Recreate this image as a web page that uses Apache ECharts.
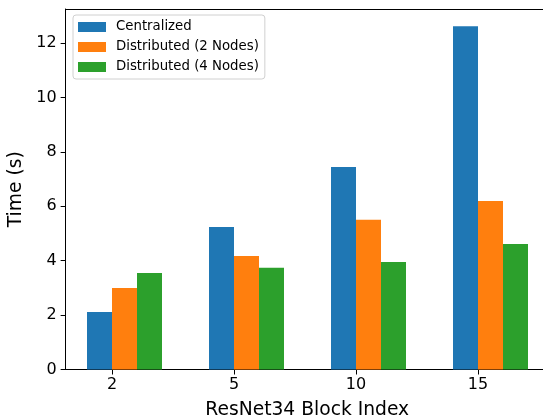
<!DOCTYPE html>
<html>
<head>
<meta charset="utf-8">
<script src="https://cdn.jsdelivr.net/npm/echarts@6/dist/echarts.min.js"></script>
<style>
  html, body { margin: 0; padding: 0; background: #fff; }
  #chart { width: 543px; height: 417px; }
</style>
</head>
<body>
<div id="chart"></div>
<script>
// Block indices on the x axis and run times (seconds) for each setup
const blockLabels = ['2', '5', '10', '15'];
const centralized = [2.11, 5.24, 7.44, 12.62];
const distributed2 = [3.00, 4.17, 5.50, 6.19];
const distributed4 = [3.55, 3.74, 3.95, 4.61];
const yTicks = [0, 2, 4, 6, 8, 10, 12];

const FONT = 'DejaVu Sans';
const BAR_W = 25;
const positions = blockLabels.map((_, i) => i);
const toPoints = arr => arr.map((v, i) => [i, v]);

const chart = echarts.init(document.getElementById('chart'), null, { renderer: 'canvas' });

const barSeries = (name, values, color) => ({
  name, type: 'bar', barWidth: BAR_W, barGap: '0%',
  data: toPoints(values), itemStyle: { color }
});

const frameLine = { show: true, onZero: false, lineStyle: { color: '#000', width: 1 } };

chart.setOption({
  animation: false,
  backgroundColor: '#fff',
  grid: {
    left: 65.64, right: -5.76, top: 9, bottom: 47.5,
    outerBoundsMode: 'none', containLabel: false, show: false
  },
  legend: {
    orient: 'vertical',
    left: 73, top: 15,
    data: ['Centralized', 'Distributed (2 Nodes)', 'Distributed (4 Nodes)'],
    icon: 'rect',
    itemWidth: 28, itemHeight: 10, itemGap: 6,
    padding: [5, 6, 5, 5],
    backgroundColor: 'rgba(255,255,255,0.8)',
    borderColor: '#d0d0d0', borderWidth: 1, borderRadius: 3,
    textStyle: { fontFamily: FONT, fontSize: 13.3, color: '#000', lineHeight: 14, padding: [0, 0, 0, 5] }
  },
  xAxis: [
    {
      type: 'value',
      min: -0.38, max: 3.58,
      name: 'ResNet34 Block Index',
      nameLocation: 'middle', nameGap: 31,
      nameTextStyle: { fontFamily: FONT, fontSize: 18.7, color: '#000' },
      axisLine: frameLine,
      axisTick: { show: true, inside: false, length: 5, lineStyle: { color: '#000' }, customValues: positions },
      axisLabel: {
        fontFamily: FONT, fontSize: 16, color: '#000', margin: 7,
        customValues: positions,
        formatter: v => blockLabels[Math.round(v)]
      },
      splitLine: { show: false }
    },
    {
      // top frame line
      type: 'value', position: 'top',
      min: -0.38, max: 3.58,
      axisLine: frameLine,
      axisTick: { show: false }, axisLabel: { show: false }, splitLine: { show: false }
    }
  ],
  yAxis: {
    type: 'value',
    min: 0, max: 13.25,
    name: 'Time (s)',
    nameLocation: 'middle', nameGap: 28,
    nameTextStyle: { fontFamily: FONT, fontSize: 18.7, color: '#000' },
    axisLine: frameLine,
    axisTick: { show: true, inside: false, length: 5, lineStyle: { color: '#000' }, customValues: yTicks },
    axisLabel: { fontFamily: FONT, fontSize: 16, color: '#000', margin: 9, customValues: yTicks },
    splitLine: { show: false }
  },
  series: [
    {
      // empty slot so the group sits with the tick between the first two bars
      name: 'spacer', type: 'bar', barWidth: BAR_W, barGap: '0%',
      data: toPoints(centralized.map(() => 0)),
      itemStyle: { color: 'rgba(0,0,0,0)' }, silent: true
    },
    barSeries('Centralized', centralized, '#1f77b4'),
    barSeries('Distributed (2 Nodes)', distributed2, '#ff7f0e'),
    barSeries('Distributed (4 Nodes)', distributed4, '#2ca02c')
  ]
});
</script>
</body>
</html>
